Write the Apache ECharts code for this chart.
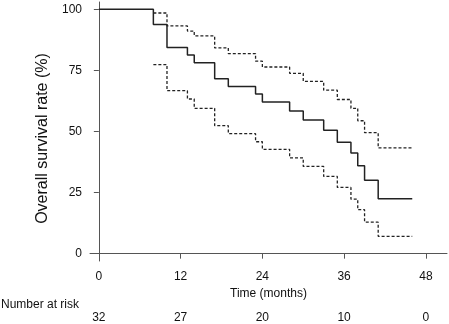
<!DOCTYPE html>
<html>
<head>
<meta charset="utf-8">
<script src="https://cdn.jsdelivr.net/npm/echarts@6/dist/echarts.min.js"></script>
<style>
  html, body { margin: 0; padding: 0; background: #fff; }
  #chart { width: 449px; height: 324px; }
</style>
</head>
<body>
<div id="chart"></div>
<script>
// step times (months) of the KM curve
const times = [0, 8, 10, 13, 14, 17, 19, 23, 24, 28, 30, 33, 35, 37, 38, 39, 41, 46];
// overall survival (%)
const survival = [100, 93.8, 84.4, 81.3, 78.1, 71.6, 68.4, 65.3, 62.1, 58.4, 54.7, 50.5, 45.6, 41.2, 36.0, 30.0, 22.5, 22.5];
// 95% CI bounds, starting at the first event (8 months)
const upper = [98.5, 93.2, 91.1, 89.1, 84.2, 81.9, 78.8, 76.4, 73.8, 70.5, 66.9, 63.1, 59.5, 54.4, 49.5, 43.3, 43.3];
const lower = [77.4, 66.7, 63.3, 59.5, 52.4, 49.1, 45.8, 42.7, 39.2, 35.7, 31.6, 27.1, 22.3, 18.0, 12.9, 7.1, 7.1];

const xTicks = [0, 12, 24, 36, 48];
const yTicks = [0, 25, 50, 75, 100];
const atRisk = [32, 27, 20, 10, 0];

const font = 'Liberation Sans, Arial, sans-serif';

const chart = echarts.init(document.getElementById('chart'));

const ciTimes = times.slice(1);
const dashed = { color: '#222', width: 1.3, type: [3, 2] };

chart.setOption({
    animation: false,
    grid: { left: 90, right: 2, top: 2, bottom: 63 },
    xAxis: [
        {
            type: 'value',
            min: -1.3,
            max: 51.1,
            name: 'Time (months)',
            nameLocation: 'middle',
            nameGap: 18,
            nameTextStyle: { color: '#111', fontSize: 12, fontFamily: font },
            splitLine: { show: false },
            axisLine: { lineStyle: { color: '#555', width: 1 } },
            axisTick: { length: 5, customValues: xTicks, lineStyle: { color: '#555' } },
            axisLabel: { customValues: xTicks, color: '#111', fontSize: 12, fontFamily: font, margin: 10 }
        },
        {
            // number at risk row
            type: 'value',
            position: 'bottom',
            offset: 46,
            min: -1.3,
            max: 51.1,
            splitLine: { show: false },
            axisLine: { show: false },
            axisTick: { show: false },
            axisLabel: {
                customValues: xTicks,
                margin: 5,
                color: '#111', fontSize: 12, fontFamily: font,
                formatter: v => String(atRisk[xTicks.indexOf(v)])
            }
        }
    ],
    yAxis: {
        type: 'value',
        min: -3,
        max: 103,
        name: 'Overall survival rate (%)',
        nameLocation: 'middle',
        nameGap: 34,
        nameTextStyle: { color: '#111', fontSize: 16, fontFamily: font, padding: [0, 14, 0, 0] },
        splitLine: { show: false },
        axisLine: { show: true, lineStyle: { color: '#555', width: 1 } },
        axisTick: { show: true, length: 5, customValues: yTicks, lineStyle: { color: '#555' } },
        axisLabel: { customValues: yTicks, color: '#111', fontSize: 12, fontFamily: font, margin: 8 }
    },
    graphic: [
        {
            type: 'text',
            left: 1,
            top: 299,
            style: { text: 'Number at risk', fill: '#111', font: '12px ' + font }
        }
    ],
    series: [
        {
            type: 'line',
            step: 'end',
            symbol: 'none',
            data: times.map((t, i) => [t, survival[i]]),
            lineStyle: { color: '#222', width: 1.5 }
        },
        {
            type: 'line',
            step: 'end',
            symbol: 'none',
            data: ciTimes.map((t, i) => [t, upper[i]]),
            lineStyle: dashed
        },
        {
            type: 'line',
            step: 'end',
            symbol: 'none',
            data: ciTimes.map((t, i) => [t, lower[i]]),
            lineStyle: dashed
        }
    ]
});
</script>
</body>
</html>
